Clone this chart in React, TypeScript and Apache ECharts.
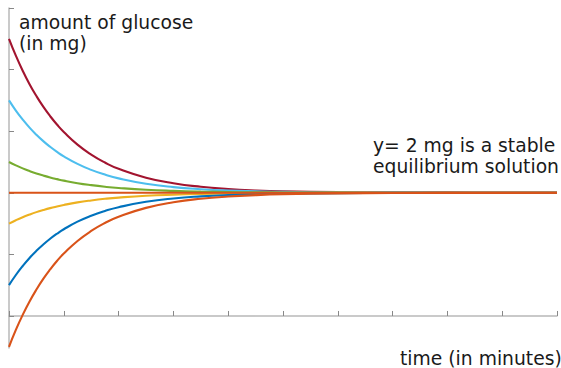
import React, { useEffect, useRef } from "react";
import * as echarts from "echarts";

const times = [0, 0.125, 0.25, 0.375, 0.5, 0.625, 0.75, 0.875, 1, 1.25, 1.5, 1.75, 2, 2.5, 3, 3.5, 4, 4.5, 5, 6, 7, 8, 9, 10];
const redVals = [4.5, 4.226, 3.982, 3.764, 3.571, 3.398, 3.245, 3.108, 2.987, 2.782, 2.62, 2.491, 2.389, 2.245, 2.154, 2.097, 2.061, 2.038, 2.024, 2.01, 2.004, 2.002, 2.001, 2.0];
const lightBlueVals = [3.5, 3.335, 3.189, 3.058, 2.942, 2.839, 2.747, 2.665, 2.592, 2.469, 2.372, 2.295, 2.234, 2.147, 2.092, 2.058, 2.036, 2.023, 2.014, 2.006, 2.002, 2.001, 2.0, 2.0];
const greenVals = [2.5, 2.445, 2.396, 2.353, 2.314, 2.28, 2.249, 2.222, 2.197, 2.156, 2.124, 2.098, 2.078, 2.049, 2.031, 2.019, 2.012, 2.008, 2.005, 2.002, 2.001, 2.0, 2.0, 2.0];
const flatVals = [2, 2, 2, 2, 2, 2, 2, 2, 2, 2, 2, 2, 2, 2, 2, 2, 2, 2, 2, 2, 2, 2, 2, 2];
const yellowVals = [1.5, 1.555, 1.604, 1.647, 1.686, 1.72, 1.751, 1.778, 1.803, 1.844, 1.876, 1.902, 1.922, 1.951, 1.969, 1.981, 1.988, 1.992, 1.995, 1.998, 1.999, 2.0, 2.0, 2.0];
const blueVals = [0.5, 0.665, 0.811, 0.942, 1.058, 1.161, 1.253, 1.335, 1.408, 1.531, 1.628, 1.705, 1.766, 1.853, 1.908, 1.942, 1.964, 1.977, 1.986, 1.994, 1.998, 1.999, 2.0, 2.0];
const orangeVals = [-0.5, -0.226, 0.018, 0.236, 0.429, 0.602, 0.755, 0.892, 1.013, 1.218, 1.38, 1.509, 1.611, 1.755, 1.846, 1.903, 1.939, 1.962, 1.976, 1.99, 1.996, 1.998, 1.999, 2.0];
const yTicks = [0, 1, 2, 3, 4, 5];

const seriesDefs = [
  { name: "a", color: "#A2142F", vals: redVals },
  { name: "b", color: "#4DBEEE", vals: lightBlueVals },
  { name: "c", color: "#77AC30", vals: greenVals },
  { name: "e", color: "#EDB120", vals: yellowVals },
  { name: "f", color: "#0072BD", vals: blueVals },
  { name: "g", color: "#D95319", vals: orangeVals },
  { name: "d", color: "#D95319", vals: flatVals },
];

const FONT = "20px 'DejaVu Sans'";
const SX = 0.937;

function label(text: string, x: number, y: number) {
  return {
    type: "text",
    x,
    y,
    scaleX: SX,
    style: { text, font: FONT, fill: "#1a1a1a", align: "left", verticalAlign: "middle" },
  };
}

export default function App() {
  const ref = useRef<HTMLDivElement>(null);
  useEffect(() => {
    document.body.style.margin = "0";
    const chart = echarts.init(ref.current!, null, { renderer: "svg" });
    chart.setOption({
      animation: false,
      grid: { left: 9, right: 4, top: 8, bottom: 20 },
      xAxis: {
        type: "value",
        min: 0,
        max: 10,
        interval: 1,
        axisLine: { show: true, lineStyle: { color: "#b8b8b8", width: 1.5 } },
        axisTick: { show: true, inside: true, length: 5, lineStyle: { color: "#888", width: 1 } },
        axisLabel: { show: false },
        splitLine: { show: false },
      },
      yAxis: {
        type: "value",
        min: -0.52,
        max: 5,
        axisLine: { show: true, lineStyle: { color: "#b8b8b8", width: 1.5 } },
        axisTick: { show: true, inside: true, length: 5, customValues: yTicks, lineStyle: { color: "#888", width: 1 } },
        axisLabel: { show: false },
        splitLine: { show: false },
      },
      series: seriesDefs.map((s) => ({
        name: s.name,
        type: "line",
        data: times.map((t, i) => [t, s.vals[i]]),
        showSymbol: false,
        smooth: 0.5,
        lineStyle: { color: s.color, width: 2.1 },
        itemStyle: { color: s.color },
      })),
      graphic: [
        label("amount of glucose", 19, 22.4),
        label("(in mg)", 19, 43.1),
        label("y= 2 mg is a stable", 373, 145.4),
        label("equilibrium solution", 373, 166.4),
        label("time (in minutes)", 400, 358.6),
      ],
    });
    return () => chart.dispose();
  }, []);
  return <div ref={ref} style={{ width: 561, height: 368 }} />;
}
